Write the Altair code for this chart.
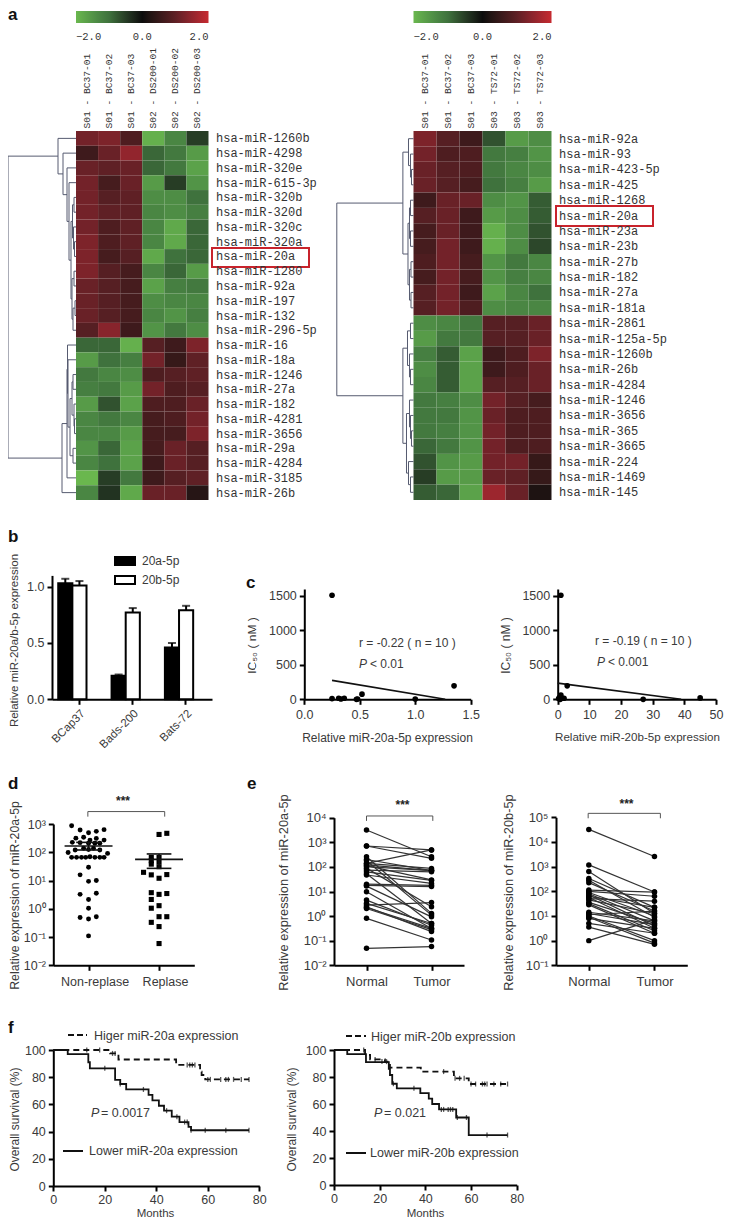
import altair as alt
import pandas as pd

W, H = 716, 1211
SANS = "Liberation Sans"
MONO = "Liberation Mono"
TXT = "#3a3a3a"
ONE = alt.Data(values=[{"a": 1}])

# ---------- panel a data ----------
left_rows = ["hsa-miR-1260b","hsa-miR-4298","hsa-miR-320e","hsa-miR-615-3p","hsa-miR-320b","hsa-miR-320d","hsa-miR-320c","hsa-miR-320a","hsa-miR-20a","hsa-miR-1280","hsa-miR-92a","hsa-miR-197","hsa-miR-132","hsa-miR-296-5p","hsa-miR-16","hsa-miR-18a","hsa-miR-1246","hsa-miR-27a","hsa-miR-182","hsa-miR-4281","hsa-miR-3656","hsa-miR-29a","hsa-miR-4284","hsa-miR-3185","hsa-miR-26b"]
left_cols = ["S01 - BC37-01","S01 - BC37-02","S01 - BC37-03","S02 - DS200-01","S02 - DS200-02","S02 - DS200-03"]
left_vals = [
 [1.2,1.3,0.8,-1.9,-1.3,-0.5],[0.6,1.1,1.5,-0.9,-1.1,-1.6],[1.1,1.0,1.1,-0.9,-1.1,-1.7],[1.2,0.7,1.1,-1.6,-0.5,-1.5],
 [1.2,0.9,1.0,-1.4,-1.4,-1.0],[1.2,1.0,1.0,-1.3,-1.4,-1.2],[1.2,0.8,1.0,-1.3,-1.8,-0.9],[1.3,0.8,1.0,-1.3,-1.8,-0.9],
 [1.3,0.7,0.9,-1.8,-1.0,-0.9],[1.3,0.9,0.7,-1.3,-0.9,-1.6],[1.1,0.9,0.7,-1.7,-1.2,-1.1],[1.1,0.9,0.7,-1.4,-1.3,-1.3],
 [1.1,0.9,0.7,-1.3,-1.5,-1.2],[0.9,1.4,0.6,-1.5,-1.1,-1.4],[-0.9,-0.9,-1.9,0.9,0.6,1.3],[-1.6,-1.0,-1.2,1.2,0.5,1.0],
 [-1.1,-1.3,-1.4,0.8,0.9,1.0],[-1.2,-1.1,-1.6,1.2,0.8,0.9],[-1.6,-0.7,-1.7,0.8,0.8,1.1],[-1.3,-1.1,-1.3,0.7,0.8,1.2],
 [-1.3,-1.3,-1.6,0.7,0.7,1.3],[-1.5,-0.9,-1.7,0.7,1.1,0.9],[-1.3,-1.0,-1.7,0.6,1.1,0.9],[-2.0,-0.5,-1.1,0.6,0.9,1.0],
 [-1.3,-0.4,-1.8,1.1,1.1,0.3]]
right_rows = ["hsa-miR-92a","hsa-miR-93","hsa-miR-423-5p","hsa-miR-425","hsa-miR-1268","hsa-miR-20a","hsa-miR-23a","hsa-miR-23b","hsa-miR-27b","hsa-miR-182","hsa-miR-27a","hsa-miR-181a","hsa-miR-2861","hsa-miR-125a-5p","hsa-miR-1260b","hsa-miR-26b","hsa-miR-4284","hsa-miR-1246","hsa-miR-3656","hsa-miR-365","hsa-miR-3665","hsa-miR-224","hsa-miR-1469","hsa-miR-145"]
right_cols = ["S01 - BC37-01","S01 - BC37-02","S01 - BC37-03","S03 - TS72-01","S03 - TS72-02","S03 - TS72-03"]
right_vals = [
 [1.3,0.9,0.6,-0.7,-1.6,-1.4],[1.2,0.8,0.8,-1.1,-1.2,-1.5],[1.1,0.9,0.8,-1.1,-1.3,-1.4],[1.1,0.9,0.7,-1.0,-1.2,-1.6],
 [0.6,1.1,1.1,-1.4,-1.5,-0.8],[0.9,1.1,0.6,-1.6,-1.4,-0.8],[0.7,1.1,0.6,-1.9,-1.4,-0.7],[0.7,1.2,0.6,-1.9,-1.4,-0.6],
 [0.8,1.2,0.7,-1.5,-1.1,-1.3],[0.7,1.2,0.7,-1.5,-1.2,-1.3],[0.9,1.2,0.6,-1.7,-1.3,-1.0],[0.9,1.2,0.8,-1.4,-1.3,-1.3],
 [-1.4,-1.3,-1.1,0.9,0.9,1.1],[-1.6,-1.1,-1.1,0.9,0.9,1.1],[-1.2,-0.8,-1.7,0.6,0.8,1.3],[-1.4,-0.8,-1.7,0.6,0.8,1.1],
 [-1.3,-0.8,-1.7,0.9,0.9,1.1],[-1.1,-1.2,-1.4,1.2,0.9,0.7],[-1.1,-1.1,-1.5,1.1,0.8,0.8],[-1.1,-1.2,-1.5,1.2,0.8,0.8],
 [-0.9,-1.1,-1.5,1.2,0.8,0.8],[-0.7,-1.5,-1.6,1.2,1.2,0.5],[-0.5,-1.6,-1.6,1.1,1.0,0.5],[-0.8,-0.9,-1.7,1.6,1.1,0.2]]
# dendrograms: (merge distance, child, child); an int child is a row index
left_tree = (68,
  (18,0,(13,1,(9,2,(7,3,(5,(3.5,(2,4,5),(2.5,6,(1.5,7,8))),(4,(2,9,10),(3,(1,11,12),13))))))),
  (14,(9,(8.5,14,(8,15,(6,(4,(3,16,17),(2,18,(1.5,19,20))),(3,21,22)))),23),24))
right_tree = (76.6,
  (10.6,(5,0,(3,1,(2,2,3))),(5.5,(4,(3,4,5),(3,6,7)),(4,(2.5,8,9),(2.5,10,11)))),
  (10.6,(6,(3,12,13),(4,14,(3,15,16))),(7,(4,17,(3,18,(2,19,20))),(5,21,(3,22,23)))))
heat_domain = [-2,-1,0,1,2]
heat_range = ["#6ab74e","#3f723d","#0c0c0c","#5f2025","#c62a30"]

# ---------- panel b data ----------
b_groups = ["BCap37","Bads-200","Bats-72"]
b_series = ["20a-5p","20b-5p"]
b_20a = [1.03,0.21,0.46]; b_20a_top = [1.07,0.22,0.50]
b_20b = [1.01,0.77,0.79]; b_20b_top = [1.05,0.81,0.83]

# ---------- panel c data ----------
c1_x = [0.25,0.25,0.31,0.33,0.36,0.47,0.48,0.52,1.0,1.35]
c1_y = [1510,10,15,5,15,0,5,75,5,195]
c1_fit_x = [0.25,1.27]; c1_fit_y = [275,0]
c2_x = [1,3,27,45,0.3,0.6,1,1.3,2,0.8]
c2_y = [1510,195,0,20,10,30,60,15,15,0]
c2_fit_x = [0,39]; c2_fit_y = [235,0]

# ---------- panel d data (log10 of expression) ----------
d1_x = [.26,.38,.50,.61,.72,.32,.43,.52,.61,.72,.27,.38,.50,.59,.66,.21,.31,.43,.50,.57,.66,.77,.26,.33,.40,.46,.52,.59,.66,.72,.50,.38,.50,.61,.38,.61,.50,.50,.38,.50,.61,.50]
d1_y = [2.94,2.79,2.69,2.74,2.80,2.50,2.53,2.43,2.49,2.43,2.35,2.34,2.32,2.32,2.32,1.99,2.08,2.14,2.10,2.14,2.08,1.96,1.82,1.82,1.82,1.82,1.84,1.82,1.82,1.82,1.47,1.20,.97,1.00,.51,.55,.33,.02,-.31,-.36,-.28,-.96]
d2_x = [1.50,1.61,1.39,1.50,1.39,1.50,1.39,1.50,1.28,1.39,1.50,1.61,1.39,1.50,1.61,1.39,1.39,1.50,1.39,1.50,1.61,1.50,1.50]
d2_y = [2.63,2.67,1.82,1.82,1.70,1.67,1.58,1.49,1.29,1.20,1.08,1.21,.57,.51,.54,.33,.02,.11,-.48,-.63,-.28,-.28,-1.23]
d_mean_x = [.5,1.5]; d_mean_log = [2.22,1.75]
d_sem_low = [2.08,1.43]; d_sem_high = [2.35,1.94]

# ---------- panel e data (log10 of expression) ----------
e1_normal = [3.50,2.85,2.85,2.41,2.25,2.14,2.14,2.08,2.05,2.01,1.95,1.87,1.80,1.72,1.67,1.30,1.25,1.22,.99,.65,.52,.45,.38,.35,.31,-.09,-1.31,2.30]
e1_tumor  = [2.41,2.69,2.35,.11,.04,2.69,1.94,1.85,1.47,1.85,.38,1.80,1.45,-.30,1.33,1.25,1.20,-.03,-.50,-.37,-.30,.55,-.63,-.50,-.55,-.97,-1.24,1.85]
e2_normal = [4.51,3.07,2.80,2.52,2.45,2.35,2.05,2.0,1.95,1.9,1.85,1.8,1.75,1.7,1.65,1.55,1.5,1.45,1.15,1.1,1.05,1.0,.95,.9,.7,.55,0.0]
e2_tumor  = [3.41,1.97,1.10,1.35,.95,1.2,1.97,1.8,1.0,.8,.6,1.35,.5,1.6,1.1,.7,.4,.3,.8,.65,1.2,0.0,-.1,.5,.3,-.15,.85]

# ---------- panel f data ----------
f1_hi_t = [0,22,25.3,47.7,57,57.6,59,76]; f1_hi_s = [100,97.5,93,89,84,81.6,78.4,78.4]
f1_lo_t = [0,5.6,13.6,14.2,24,26,28.3,37,38.5,41,43,46,49,52.5,53.5,76]
f1_lo_s = [100,97,91,86.5,78,75,71,67,63,59,55.4,51,47,43.5,41,41]
f1_hi_ct = [13,18,23,24,52,53,54,55,60,61,65,67,68,70,73,76]; f1_hi_cs = [100,100,97.5,97.5,89,89,89,89,78.4,78.4,78.4,78.4,78.4,78.4,78.4,78.4]
f1_lo_ct = [20,26,35,44,48,51,52,53.5,59,67,76]; f1_lo_cs = [86.5,75,71,55.4,51,47,47,41,41,41,41]
f2_hi_t = [0,13.6,15.8,22.3,24.5,38,52.5,59,60,76]; f2_hi_s = [100,96.3,93,91.4,87,84,79,76.5,74.8,74.8]
f2_lo_t = [0,5.8,14,24,24.5,25.5,27.5,37.8,41.5,43,46,53.5,59,76]
f2_lo_s = [100,97,91,86,81.5,75,71.6,68,64,60,56,50,37,37]
f2_hi_ct = [13,18,21,23,48,53,55,57,60,62,65,66,67,70,73,76]; f2_hi_cs = [100,93,91.4,91.4,84,79,79,79,74.8,74.8,74.8,74.8,74.8,74.8,74.8,74.8]
f2_lo_ct = [26,35,47,48,50,51,52,54,58,67,76]; f2_lo_cs = [75,71.6,56,56,56,56,56,50,50,37,37]


# ---------- helpers ----------
SUP = {"-2":"⁻²","-1":"⁻¹","0":"⁰","1":"¹","2":"²","3":"³","4":"⁴","5":"⁵"}

def pow_expr(lo, hi):
    expr = "''"
    for e in range(hi, lo - 1, -1):
        expr = f"datum.value < {10.0 ** (e + .5)} ? '10{SUP[str(e)]}' : {expr}" if e != hi else f"'10{SUP[str(e)]}'"
    return expr

def lin(dom, a, b):
    return alt.Scale(domain=dom, range=[a - 8, b - 8], nice=False, zero=False)

def logs(dom, a, b):
    return alt.Scale(type="log", domain=dom, range=[a - 8, b - 8], nice=False)

def xaxis(ypage, title=None, tx=None, ty=None, size=12.5, tsize=12, **kw):
    d = dict(orient="bottom", offset=ypage - 8 - H, domainWidth=2, domainColor="black", tickColor="black",
             tickWidth=2, tickSize=5, labelFontSize=size, labelColor=TXT, labelFont=SANS, labelPadding=3,
             labelOverlap=False, labelFlush=False, title=title)
    if title:
        d.update(titleFontSize=tsize, titleFont=SANS, titleFontWeight="normal", titleColor=TXT,
                 titleX=tx - 8, titleY=ty - ypage, titleBaseline="middle", titleAlign="center")
    d.update(kw)
    return alt.Axis(**d)

def yaxis(xpage, title=None, tx=None, ty=None, size=12.5, tsize=12, **kw):
    d = dict(orient="left", offset=-(xpage - 8), domainWidth=2, domainColor="black", tickColor="black",
             tickWidth=2, tickSize=5, labelFontSize=size, labelColor=TXT, labelFont=SANS, labelPadding=3,
             labelOverlap=False, labelFlush=False, title=title)
    if title:
        d.update(titleFontSize=tsize, titleFont=SANS, titleFontWeight="normal", titleColor=TXT,
                 titleX=tx - xpage, titleY=ty - 8, titleBaseline="middle", titleAlign="center", titleAngle=270)
    d.update(kw)
    return alt.Axis(**d)

def text(s, x, y, size=12, weight="normal", style="normal", color=TXT, align="left", font=SANS):
    return alt.Chart(ONE).mark_text(text=s, align=align, baseline="middle", fontSize=size, fontWeight=weight,
                                    fontStyle=style, color=color, font=font).encode(
        x=alt.value(x - 8), y=alt.value(y - 8))

def seg(x0, x1, y):
    return alt.Chart(ONE).mark_rule(color="#111", strokeWidth=2).encode(
        x=alt.value(x0 - 8), x2=alt.value(x1 - 8), y=alt.value(y - 8))

layers = []

# ---------- heatmaps ----------
def heat(rows, cols, vals, x0, x1, y0, y1, tree, dx0):
    df = pd.DataFrame([{"row": r, "col": c, "v": vals[i][j]} for i, r in enumerate(rows) for j, c in enumerate(cols)])
    ch = alt.Chart(df).mark_rect().encode(
        x=alt.X("col:N", sort=cols, scale=alt.Scale(domain=cols, range=[x0 - 8, x1 - 8], paddingInner=0, paddingOuter=0),
                axis=alt.Axis(orient="top", offset=-(y0 - 3 - 8), title=None, domain=False, ticks=False, labelAngle=270,
                              labelFont=MONO, labelFontSize=9.6, labelColor="#333", labelPadding=0, labelLimit=200)),
        y=alt.Y("row:N", sort=rows, scale=alt.Scale(domain=rows, range=[y0 - 8, y1 - 8], paddingInner=0, paddingOuter=0),
                axis=alt.Axis(orient="right", offset=x1 - 8 - W, title=None, domain=False, ticks=False,
                              labelFont=MONO, labelFontSize=12, labelColor="#333", labelPadding=7, labelLimit=200)),
        color=alt.Color("v:Q", scale=alt.Scale(domain=heat_domain, range=heat_range),
                        legend=alt.Legend(orient="none", legendX=x0 - 8, legendY=11 - 8, direction="horizontal",
                                          gradientLength=x1 - x0, gradientThickness=12, title=None,
                                          values=[-2, 0, 2], format=".1f", labelFont=MONO, labelFontSize=10.5,
                                          labelColor="#333", labelOffset=9)),
    )
    segs = []
    def walk(n):
        if isinstance(n, int):
            return 0.0, n + .5
        d, a, b = n
        da, ya = walk(a)
        db, yb = walk(b)
        segs.append((d, ya, d, yb))
        segs.append((d, ya, da, ya))
        segs.append((d, yb, db, yb))
        return d, (ya + yb) / 2
    walk(tree)
    seg_df = pd.DataFrame(segs, columns=["d", "r", "d2", "r2"])
    den = alt.Chart(seg_df).mark_rule(color="#565b70", strokeWidth=1).encode(
        x=alt.X("d:Q", scale=lin([tree[0], 0], dx0, x0), axis=None),
        x2="d2:Q",
        y=alt.Y("r:Q", scale=lin([0, len(rows)], y0, y1), axis=None),
        y2="r2:Q",
    )
    return [ch, den]

layers += heat(left_rows, left_cols, left_vals, 76, 208.5, 131, 500, left_tree, 8)
layers += heat(right_rows, right_cols, right_vals, 413.5, 551.5, 131, 500, right_tree, 336.8)

def redbox(x0, x1, y0, y1):
    return alt.Chart(ONE).mark_rect(fill="transparent", stroke="#c8232c", strokeWidth=2).encode(
        x=alt.value(x0 - 8), x2=alt.value(x1 - 8), y=alt.value(y0 - 8), y2=alt.value(y1 - 8))
layers += [redbox(212, 309, 248, 267), redbox(556, 653, 206, 226)]

# ---------- panel b ----------
# the bars sit a little left of their axis ticks, as in the source figure
bx = alt.Scale(domain=b_groups, range=[45.7 - 8, 205.7 - 8], paddingInner=.47, paddingOuter=.235)
bx_axis = alt.Scale(domain=b_groups, range=[52 - 8, 212 - 8], paddingInner=.47, paddingOuter=.235)
by = lin([0, 1.1], 699.3, 575.4)
boff = alt.Scale(domain=b_series)
b_df = pd.DataFrame({"g": b_groups * 2, "s": [b_series[0]] * 3 + [b_series[1]] * 3, "v": b_20a + b_20b, "top": b_20a_top + b_20b_top})
xo = alt.XOffset("s:N", scale=boff)
layers.append(alt.Chart(b_df).mark_rule(color="black", strokeWidth=2).encode(
    x=alt.X("g:N", scale=bx, axis=None, sort=b_groups), xOffset=xo,
    y=alt.Y("v:Q", scale=by, axis=None), y2="top:Q"))
layers.append(alt.Chart(b_df).mark_tick(color="black", thickness=2, size=8).encode(
    x=alt.X("g:N", scale=bx, axis=None, sort=b_groups), xOffset=xo,
    y=alt.Y("top:Q", scale=by, axis=None)))
layers.append(alt.Chart(b_df).mark_point(opacity=0).encode(
    x=alt.X("g:N", scale=bx_axis, sort=b_groups, axis=xaxis(699.3, labelAngle=-45, size=11.5)),
    y=alt.Y("v:Q", scale=by, axis=yaxis(52, "Relative miR-20a/b-5p expression", 14, 640, tsize=11.5, values=[0, .5, 1], format=".1f"))))
layers.append(alt.Chart(b_df).mark_bar(stroke="black", strokeWidth=2).encode(
    x=alt.X("g:N", scale=bx, sort=b_groups, axis=None),
    xOffset=xo,
    y=alt.Y("v:Q", scale=by, axis=None),
    fill=alt.Fill("s:N", scale=alt.Scale(domain=b_series, range=["#000000", "#ffffff"]),
                  legend=alt.Legend(orient="none", legendX=114 - 8, legendY=550 - 8, title=None,
                                    symbolType="M-1,-0.4H1V0.4H-1Z", symbolSize=400, symbolStrokeColor="black",
                                    symbolStrokeWidth=2, labelFontSize=12, labelFont=SANS, labelColor=TXT,
                                    rowPadding=0, labelOffset=6)),
))

# ---------- panel c ----------
def scatter(xs, ys, fx, fy, xdom, xvals, xfmt, x0, x1, ytitle_x, xtitle, xcx, xtsize):
    sx = lin(xdom, x0, x1)
    sy = lin([0, 1600], 699.3, 589)
    pts = alt.Chart(pd.DataFrame({"x": xs, "y": ys})).mark_circle(size=32, color="black", opacity=1).encode(
        x=alt.X("x:Q", scale=sx, axis=xaxis(699.3, xtitle, xcx, 737, tsize=xtsize, values=xvals, format=xfmt, labelPadding=4)),
        y=alt.Y("y:Q", scale=sy, axis=yaxis(x0, "IC₅₀ ( nM )", ytitle_x, 645, values=[0, 500, 1000, 1500], format="d")))
    fit = alt.Chart(pd.DataFrame({"x": fx, "y": fy})).mark_line(color="#111", strokeWidth=1.6).encode(
        x=alt.X("x:Q", scale=sx, axis=None), y=alt.Y("y:Q", scale=sy, axis=None))
    return [fit, pts]

layers += scatter(c1_x, c1_y, c1_fit_x, c1_fit_y, [0, 1.5], [0, .5, 1, 1.5], ".1f", 304.3, 470.7, 252, "Relative miR-20a-5p expression", 387, 12)
layers += scatter(c2_x, c2_y, c2_fit_x, c2_fit_y, [0, 50], [0, 10, 20, 30, 40, 50], "d", 557.7, 716, 505, "Relative miR-20b-5p expression", 637, 11.6)
layers += [text("r = -0.22 ( n = 10 )", 359, 643), text("P", 359, 664, style="italic"), text("< 0.01", 370, 664),
           text("r = -0.19 ( n = 10 )", 595, 641), text("P", 597, 662, style="italic"), text("< 0.001", 608, 662)]

# ---------- panel d ----------
dx = lin([0, 2], 53.3, 194.3)
dy = logs([0.01, 1000], 965.3, 824)
d_a = pd.DataFrame({"x": d1_x, "y": [10 ** v for v in d1_y]})
d_b = pd.DataFrame({"x": d2_x, "y": [10 ** v for v in d2_y]})
d_m = pd.DataFrame({"m": d_mean_x, "y": [10 ** v for v in d_mean_log], "lo": [10 ** v for v in d_sem_low], "hi": [10 ** v for v in d_sem_high]})
d_m["a"] = d_m.m - .34; d_m["b"] = d_m.m + .34; d_m["ca"] = d_m.m - .175; d_m["cb"] = d_m.m + .175
layers.append(alt.Chart(d_a).mark_point(shape="circle", filled=True, size=24, color="black", opacity=1).encode(
    x=alt.X("x:Q", scale=dx, axis=xaxis(965.3, values=[.5, 1.5], labelExpr="datum.value < 1 ? 'Non-replase' : 'Replase'", labelOffset=6, labelPadding=5)),
    y=alt.Y("y:Q", scale=dy, axis=yaxis(53.3, "Relative expression of miR-20a-5p", 14, 895, tsize=12.3, values=[.01, .1, 1, 10, 100, 1000], labelExpr=pow_expr(-2, 3)))))
layers.append(alt.Chart(d_b).mark_square(size=26, color="black", opacity=1).encode(
    x=alt.X("x:Q", scale=dx, axis=None), y=alt.Y("y:Q", scale=dy, axis=None)))
for xa, xb, yf, sw in [("a", "b", "y", 1.6), ("ca", "cb", "lo", 1.6), ("ca", "cb", "hi", 1.6)]:
    layers.append(alt.Chart(d_m).mark_rule(color="#111", strokeWidth=sw).encode(
        x=alt.X(f"{xa}:Q", scale=dx, axis=None), x2=f"{xb}:Q", y=alt.Y(f"{yf}:Q", scale=dy, axis=None)))
layers.append(alt.Chart(d_m).mark_rule(color="#111", strokeWidth=1.6).encode(
    x=alt.X("m:Q", scale=dx, axis=None), y=alt.Y("lo:Q", scale=dy, axis=None), y2="hi:Q"))

def bracket(xa, xb, ytop, ybot, sx, sy):
    rows = [(xa, ybot, xa, ytop), (xa, ytop, xb, ytop), (xb, ytop, xb, ybot)]
    df = pd.DataFrame(rows, columns=["x", "y", "x2", "y2"])
    for c in ["y", "y2"]:
        df[c] = 10.0 ** df[c]
    return alt.Chart(df).mark_rule(color="#555", strokeWidth=1).encode(
        x=alt.X("x:Q", scale=sx, axis=None), x2="x2:Q", y=alt.Y("y:Q", scale=sy, axis=None), y2="y2:Q")

layers.append(bracket(.49, 1.58, 3.44, 3.26, dx, dy))
layers.append(text("***", 123, 801, size=12, weight="bold", align="center", color="#222"))

# ---------- panel e ----------
def paired(normal, tumor, ytop_exp, ybot_exp, sexp, ax0, ax1, ytop_px, tx, labels_expr, br):
    sx = lin([0, 2], ax0, ax1)
    sy = logs([10.0 ** ybot_exp, 10.0 ** ytop_exp], 965.3, ytop_px)
    rows = []
    for i, (a, b) in enumerate(zip(normal, tumor)):
        rows.append({"id": i, "x": .5, "y": 10 ** a})
        rows.append({"id": i, "x": 1.5, "y": 10 ** b})
    df = pd.DataFrame(rows)
    ln = alt.Chart(df).mark_line(color="#333", strokeWidth=1.2).encode(
        x=alt.X("x:Q", scale=sx, axis=None), y=alt.Y("y:Q", scale=sy, axis=None), detail="id:N")
    pt = alt.Chart(df).mark_circle(size=30, color="black", opacity=1).encode(
        x=alt.X("x:Q", scale=sx, axis=xaxis(965.3, values=[.5, 1.5], labelExpr="datum.value < 1 ? 'Normal' : 'Tumor'", size=13, labelPadding=5)),
        y=alt.Y("y:Q", scale=sy, axis=yaxis(ax0, "Relative expression of miR-" + sexp, tx, 892, size=13, tsize=12.8,
                                            values=[10.0 ** e for e in range(ybot_exp, ytop_exp + 1)], labelExpr=pow_expr(ybot_exp, ytop_exp))))
    return [ln, pt, bracket(br[0], br[1], br[2], br[3], sx, sy)]

layers += paired(e1_normal, e1_tumor, 4, -2, "20a-5p", 334, 464, 817.7, 283, None, (.5, 1.52, 4.07, 3.87))
layers += paired(e2_normal, e2_tumor, 5, -1, "20b-5p", 556, 687.3, 817.3, 508, None, (.49, 1.59, 5.16, 4.96))
layers += [text("***", 402.5, 805, size=12, weight="bold", align="center", color="#222"),
           text("***", 626.5, 804, size=12, weight="bold", align="center", color="#222")]

# ---------- panel f ----------
def km(hi_t, hi_s, lo_t, lo_s, hi_ct, hi_cs, lo_ct, lo_cs, x0, x1, y0, ytx, mcx, my):
    sx = lin([0, 80], x0, x1)
    sy = lin([0, 100], y0, 1050)
    out = []
    out.append(alt.Chart(pd.DataFrame({"t": lo_t, "s": lo_s})).mark_line(interpolate="step-after", color="#111", strokeWidth=1.8).encode(
        x=alt.X("t:Q", scale=sx, axis=xaxis(y0, "Months", mcx, my, values=[0, 20, 40, 60, 80], format="d", labelPadding=2, tsize=11.5)),
        y=alt.Y("s:Q", scale=sy, axis=yaxis(x0, "Overall survival (%)", ytx, 1119, values=[0, 20, 40, 60, 80, 100], format="d"))))
    out.append(alt.Chart(pd.DataFrame({"t": hi_t, "s": hi_s})).mark_line(interpolate="step-after", color="#111", strokeWidth=1.8, strokeDash=[6, 4]).encode(
        x=alt.X("t:Q", scale=sx, axis=None), y=alt.Y("s:Q", scale=sy, axis=None)))
    for ct, cs in [(hi_ct, hi_cs), (lo_ct, lo_cs)]:
        out.append(alt.Chart(pd.DataFrame({"t": ct, "s": cs})).mark_tick(color="#111", thickness=1.3, size=5, orient="vertical").encode(
            x=alt.X("t:Q", scale=sx, axis=None), y=alt.Y("s:Q", scale=sy, axis=None)))
    return out

layers += km(f1_hi_t, f1_hi_s, f1_lo_t, f1_lo_s, f1_hi_ct, f1_hi_cs, f1_lo_ct, f1_lo_cs, 53.3, 259.3, 1186, 14.5, 155, 1213)
layers += km(f2_hi_t, f2_hi_s, f2_lo_t, f2_lo_s, f2_hi_ct, f2_hi_cs, f2_lo_ct, f2_lo_cs, 334, 516.7, 1185, 291, 425, 1213)
dash = lambda x0, x1, y: alt.Chart(ONE).mark_rule(color="#111", strokeWidth=2, strokeDash=[6, 3]).encode(
    x=alt.value(x0 - 8), x2=alt.value(x1 - 8), y=alt.value(y - 8))
layers += [dash(68, 87, 1035), seg(63, 83, 1151), dash(346, 366, 1036), seg(346, 366, 1153),
           text("Higer miR-20a expression", 94, 1036, size=12.5), text("Lower miR-20a expression", 89, 1151, size=12.5),
           text("P", 91, 1113, size=12.5, style="italic"), text("= 0.0017", 101, 1113, size=12.5),
           text("Higer miR-20b expression", 371, 1037, size=12.5), text("Lower miR-20b expression", 370, 1153, size=12.5),
           text("P", 374, 1113, size=12.5, style="italic"), text("= 0.021", 384, 1113, size=12.5)]

# ---------- panel letters ----------
for s, x, y in [("a", 8, 15), ("b", 8, 537), ("c", 246, 583), ("d", 8, 784), ("e", 247, 784), ("f", 8, 1028)]:
    layers.append(text(s, x, y, size=17, weight="bold", color="#111"))

chart = alt.layer(*layers).resolve_scale(
    x="independent", y="independent", color="independent", fill="independent", xOffset="independent"
).properties(width=W, height=H, padding=0, autosize=alt.AutoSizeParams(type="none"), background="white"
).configure_view(stroke=None).configure_axis(grid=False)

chart.save("out.html", embed_options={"renderer": "svg", "actions": False})
